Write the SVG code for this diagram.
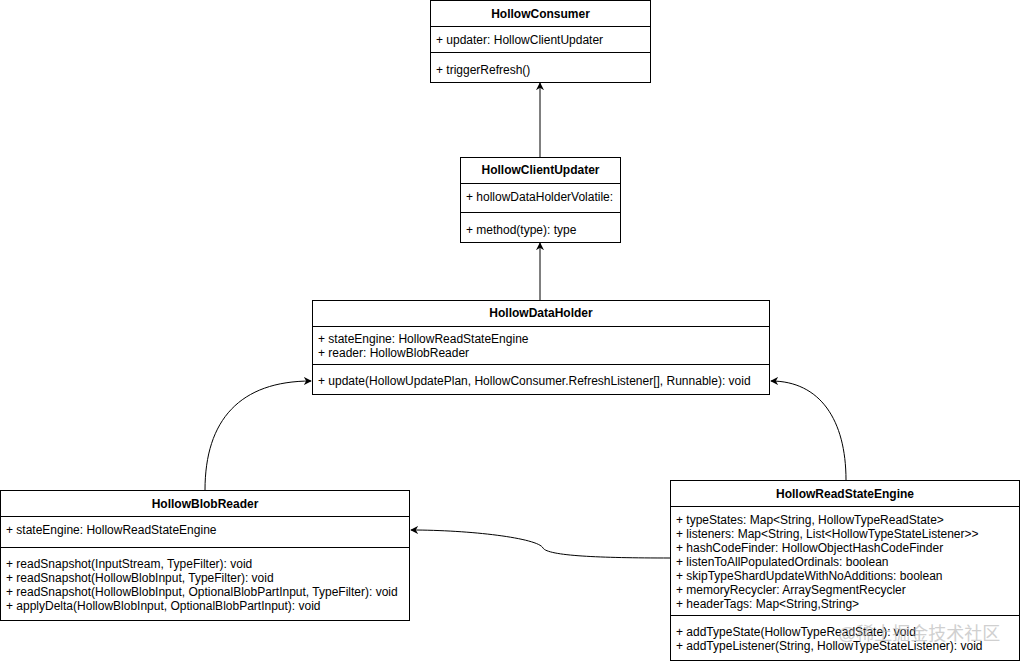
<svg xmlns="http://www.w3.org/2000/svg" width="1021" height="664" viewBox="0 0 1021 664">
<defs>
<style>
.box{fill:#fff;stroke:#000;stroke-width:1}
.div{stroke:#000;stroke-width:1}
.t{font-family:"Liberation Sans",Arial,sans-serif;font-size:12px;fill:#000}
.h{font-family:"Liberation Sans",Arial,sans-serif;font-size:12px;font-weight:bold;fill:#000;text-anchor:middle}
.c{fill:none;stroke:#000;stroke-width:1}
.wm{font-family:"Liberation Sans","Noto Sans CJK SC",sans-serif;font-size:18px;fill:#aaa;opacity:0.55}
</style>
<marker id="arr" viewBox="0 0 10 10" refX="9" refY="5" markerWidth="8" markerHeight="8" orient="auto" markerUnits="userSpaceOnUse">
<path d="M0,0 L10,5 L0,10 L3,5 Z" fill="#000"/>
</marker>
</defs>
<rect width="1021" height="664" fill="#fff"/>
<g id="connectors">
<line class="c" x1="540" y1="157" x2="540" y2="83" marker-end="url(#arr)"/>
<line class="c" x1="540" y1="300" x2="540" y2="243" marker-end="url(#arr)"/>
<path class="c" d="M205 490 C205 420 240 381 311 381" marker-end="url(#arr)"/>
<path class="c" d="M846 480 C846 420 820 381 771 381" marker-end="url(#arr)"/>
<path class="c" d="M670 558 C600 558 548 556 543 548 C538 538 470 530 411 530" marker-end="url(#arr)"/>
</g>
<g id="HollowConsumer">
<rect class="box" x="430.5" y="0.5" width="220" height="82"/>
<line class="div" x1="430.5" y1="26.5" x2="650.5" y2="26.5"/>
<line class="div" x1="430.5" y1="52.5" x2="650.5" y2="52.5"/>
<text class="h" x="540.5" y="18">HollowConsumer</text>
<text class="t" x="436" y="44">+ updater: HollowClientUpdater</text>
<text class="t" x="436" y="74">+ triggerRefresh()</text>
</g>
<g id="HollowClientUpdater">
<rect class="box" x="460.5" y="157.5" width="160" height="85"/>
<line class="div" x1="460.5" y1="183.5" x2="620.5" y2="183.5"/>
<line class="div" x1="460.5" y1="212.5" x2="620.5" y2="212.5"/>
<text class="h" x="540.5" y="174">HollowClientUpdater</text>
<text class="t" x="466" y="201">+ hollowDataHolderVolatile:</text>
<text class="t" x="466" y="234">+ method(type): type</text>
</g>
<g id="HollowDataHolder">
<rect class="box" x="312.5" y="300.5" width="457" height="94"/>
<line class="div" x1="312.5" y1="326.5" x2="769.5" y2="326.5"/>
<line class="div" x1="312.5" y1="364.5" x2="769.5" y2="364.5"/>
<text class="h" x="541" y="317">HollowDataHolder</text>
<text class="t" x="318" y="343">+ stateEngine: HollowReadStateEngine</text>
<text class="t" x="318" y="357">+ reader: HollowBlobReader</text>
<text class="t" x="318" y="385">+ update(HollowUpdatePlan, HollowConsumer.RefreshListener[], Runnable): void</text>
</g>
<g id="HollowBlobReader">
<rect class="box" x="0.5" y="490.5" width="409" height="130"/>
<line class="div" x1="0.5" y1="516.5" x2="409.5" y2="516.5"/>
<line class="div" x1="0.5" y1="547.5" x2="409.5" y2="547.5"/>
<text class="h" x="205" y="508">HollowBlobReader</text>
<text class="t" x="6" y="534">+ stateEngine: HollowReadStateEngine</text>
<text class="t" x="6" y="568">+ readSnapshot(InputStream, TypeFilter): void</text>
<text class="t" x="6" y="582">+ readSnapshot(HollowBlobInput, TypeFilter): void</text>
<text class="t" x="6" y="596">+ readSnapshot(HollowBlobInput, OptionalBlobPartInput, TypeFilter): void</text>
<text class="t" x="6" y="610">+ applyDelta(HollowBlobInput, OptionalBlobPartInput): void</text>
</g>
<g id="HollowReadStateEngine">
<rect class="box" x="670.5" y="480.5" width="349" height="180"/>
<line class="div" x1="670.5" y1="506.5" x2="1019.5" y2="506.5"/>
<line class="div" x1="670.5" y1="615.5" x2="1019.5" y2="615.5"/>
<text class="h" x="845" y="498">HollowReadStateEngine</text>
<text class="t" x="676" y="524">+ typeStates: Map&lt;String, HollowTypeReadState&gt;</text>
<text class="t" x="676" y="538">+ listeners: Map&lt;String, List&lt;HollowTypeStateListener&gt;&gt;</text>
<text class="t" x="676" y="552">+ hashCodeFinder: HollowObjectHashCodeFinder</text>
<text class="t" x="676" y="566">+ listenToAllPopulatedOrdinals: boolean</text>
<text class="t" x="676" y="580">+ skipTypeShardUpdateWithNoAdditions: boolean</text>
<text class="t" x="676" y="594">+ memoryRecycler: ArraySegmentRecycler</text>
<text class="t" x="676" y="608">+ headerTags: Map&lt;String,String&gt;</text>
<text class="t" x="676" y="636">+ addTypeState(HollowTypeReadState): void</text>
<text class="t" x="676" y="650">+ addTypeListener(String, HollowTypeStateListener): void</text>
</g>
<text class="wm" x="838" y="640">@稀土掘金技术社区</text>
</svg>
